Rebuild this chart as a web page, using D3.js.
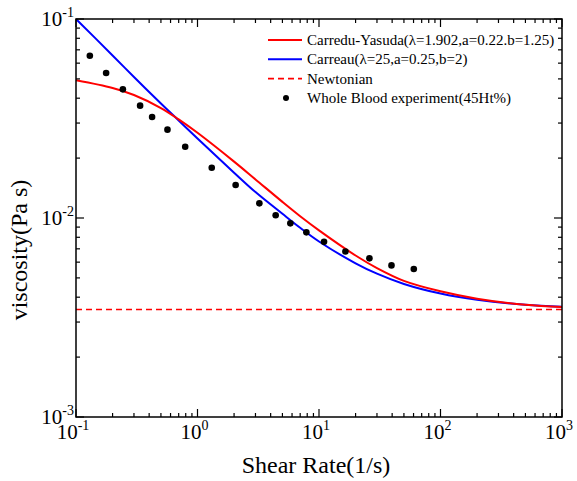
<!DOCTYPE html>
<head>
  <meta charset="utf-8">
  <script src="https://d3js.org/d3.v7.min.js"></script>
  <style>
    body { margin: 0; background: #fff; }
    svg { font-family: "Liberation Serif", "Times New Roman", serif; }
  </style>
</head>
<body>
  <svg width="577" height="481"></svg>
  <script>
    var shearRate = [0.1, 0.2, 0.3, 0.5, 0.7, 1, 2, 3, 5, 7, 10, 20, 30, 50, 100, 200, 500, 1000];
    var carreauYasuda = [0.0492, 0.0450, 0.0415, 0.0357, 0.0313, 0.0268, 0.0192, 0.01563, 0.01205, 0.01021,
      0.00867, 0.00648, 0.00560, 0.00483, 0.00428, 0.00393, 0.00366, 0.00357];
    var carreau = [0.1, 0.0656, 0.0511, 0.0376, 0.0309, 0.0251, 0.0169, 0.0135, 0.0105, 0.00893,
      0.00762, 0.00592, 0.00525, 0.00466, 0.00417, 0.00388, 0.00366, 0.00358];
    var newtonian = 0.00347;

    // whole blood measurements
    var expRate = [0.130, 0.177, 0.243, 0.337, 0.423, 0.566, 0.792, 1.31, 2.06, 3.23, 4.40, 5.81,
      7.87, 11.0, 16.5, 26.0, 39.5, 60.3];
    var expVisc = [0.0654, 0.0535, 0.0443, 0.0367, 0.0322, 0.0278, 0.0228, 0.0179, 0.01465, 0.01185,
      0.01032, 0.0094, 0.00847, 0.00759, 0.00679, 0.00627, 0.00578, 0.00554];

    var xExponents = [-1, 0, 1, 2, 3];
    var yExponents = [-3, -2, -1];
    var legendNames = ['Carredu-Yasuda(\u03bb=1.902,a=0.22.b=1.25)', 'Carreau(\u03bb=25,a=0.25,b=2)',
      'Newtonian', 'Whole Blood experiment(45Ht%)'];

    var marginLeft = 76, marginTop = 19, width = 486, height = 398;
    var svg = d3.select('svg');
    var g = svg.append('g').attr('transform', 'translate(' + [marginLeft, marginTop] + ')');

    var x = d3.scaleLog().domain([0.1, 1000]).range([0, width]);
    var y = d3.scaleLog().domain([0.001, 0.1]).range([height, 0]);

    function isMajor(d) {
      var l = Math.log10(d);
      return Math.abs(l - Math.round(l)) < 1e-6;
    }

    g.append('clipPath').attr('id', 'clip')
      .append('rect').attr('width', width).attr('height', height);
    var plot = g.append('g').attr('clip-path', 'url(#clip)');

    // newtonian reference
    plot.append('line')
      .attr('x1', 0).attr('x2', width)
      .attr('y1', Math.round(y(newtonian)) + 0.5).attr('y2', Math.round(y(newtonian)) + 0.5)
      .attr('stroke', '#ff0000').attr('stroke-width', 1.5)
      .attr('stroke-dasharray', '6,4');

    var line = d3.line()
      .x(function(d) { return x(d[0]); })
      .y(function(d) { return y(d[1]); })
      .curve(d3.curveCatmullRom.alpha(0.5));

    plot.append('path')
      .datum(d3.zip(shearRate, carreau))
      .attr('d', line)
      .attr('fill', 'none').attr('stroke', '#0000ff').attr('stroke-width', 2);

    plot.append('path')
      .datum(d3.zip(shearRate, carreauYasuda))
      .attr('d', line)
      .attr('fill', 'none').attr('stroke', '#ff0000').attr('stroke-width', 2);

    plot.selectAll('circle.pt')
      .data(d3.zip(expRate, expVisc)).enter().append('circle')
      .classed('pt', true)
      .attr('cx', function(d) { return x(d[0]); })
      .attr('cy', function(d) { return y(d[1]); })
      .attr('r', 3.3)
      .attr('fill', '#000');

    // ticks, inward on all four sides
    var ticks = g.append('g').attr('stroke', '#000').attr('stroke-width', 1.2);
    x.ticks().forEach(function(t) {
      var len = isMajor(t) ? 8 : 4;
      ticks.append('line').attr('x1', x(t)).attr('x2', x(t)).attr('y1', height).attr('y2', height - len);
      ticks.append('line').attr('x1', x(t)).attr('x2', x(t)).attr('y1', 0).attr('y2', len);
    });
    y.ticks().forEach(function(t) {
      var len = isMajor(t) ? 8 : 4;
      ticks.append('line').attr('y1', y(t)).attr('y2', y(t)).attr('x1', 0).attr('x2', len);
      ticks.append('line').attr('y1', y(t)).attr('y2', y(t)).attr('x1', width).attr('x2', width - len);
    });

    g.append('rect')
      .attr('width', width).attr('height', height)
      .attr('fill', 'none').attr('stroke', '#000').attr('stroke-width', 1.5);

    // tick labels with superscript exponents
    var xl = g.selectAll('text.xl')
      .data(xExponents).enter().append('text')
      .classed('xl', true)
      .attr('x', function(d) { return x(Math.pow(10, d)) - 3; })
      .attr('y', height + 22)
      .attr('text-anchor', 'middle')
      .style('font-size', '21px');
    xl.append('tspan').text('10');
    xl.append('tspan').attr('dy', -9).style('font-size', '14px').text(function(d) { return d; });

    var yl = g.selectAll('text.yl')
      .data(yExponents).enter().append('text')
      .classed('yl', true)
      .attr('x', -2)
      .attr('y', function(d) { return y(Math.pow(10, d)) + 7; })
      .attr('text-anchor', 'end')
      .style('font-size', '21px');
    yl.append('tspan').text('10');
    yl.append('tspan').attr('dy', -9).style('font-size', '14px').text(function(d) { return d; });

    svg.append('text')
      .attr('x', marginLeft + width / 2 - 3).attr('y', 473)
      .attr('text-anchor', 'middle')
      .style('font-size', '24px')
      .text('Shear Rate(1/s)');

    svg.append('text')
      .attr('transform', 'translate(27,250)rotate(-90)')
      .attr('text-anchor', 'middle')
      .style('font-size', '24px')
      .text('viscosity(Pa s)');

    // legend
    var legend = svg.append('g').attr('transform', 'translate(268,40)');
    var rows = legend.selectAll('g.row')
      .data(legendNames).enter().append('g')
      .classed('row', true)
      .attr('transform', function(d, i) { return 'translate(0,' + i * 19.3 + ')'; });
    rows.each(function(d, i) {
      var r = d3.select(this);
      if (i < 3) {
        r.append('line').attr('x1', 0).attr('x2', 34).attr('y1', 0).attr('y2', 0)
          .attr('stroke', i === 1 ? '#0000ff' : '#ff0000')
          .attr('stroke-width', i === 2 ? 1.6 : 2)
          .attr('stroke-dasharray', i === 2 ? '6,4' : null);
      } else {
        r.append('circle').attr('cx', 18).attr('cy', 0).attr('r', 3).attr('fill', '#000');
      }
      r.append('text').attr('x', 39).attr('y', 5)
        .style('font-size', '15px')
        .text(d);
    });
  </script>
</body>
